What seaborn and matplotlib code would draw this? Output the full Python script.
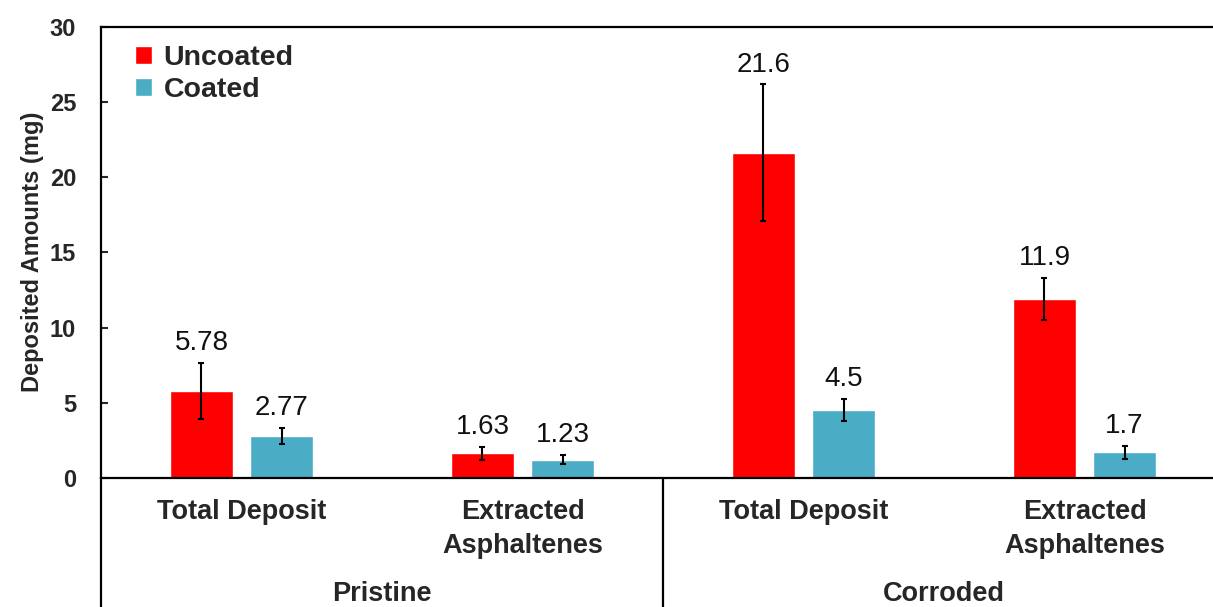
import numpy as np
import pandas as pd
import seaborn as sns
import matplotlib
matplotlib.use("Agg")
import matplotlib.pyplot as plt

# data
conditions = ["Pristine", "Corroded"]
measures = ["Total Deposit", "Extracted\nAsphaltenes"]
coatings = ["Uncoated", "Coated"]

uncoated = [5.78, 1.63, 21.6, 11.9]
coated = [2.77, 1.23, 4.5, 1.7]
uncoated_err = [1.87, 0.44, 4.55, 1.4]
coated_err = [0.53, 0.30, 0.73, 0.46]

sns.set_style("ticks")
plt.rcParams['font.family'] = ['Liberation Sans', 'DejaVu Sans']

slots = [c + "|" + m for c in conditions for m in measures]
df = pd.DataFrame({
    "slot": slots * 2,
    "coating": ["Uncoated"] * 4 + ["Coated"] * 4,
    "amount": uncoated + coated,
})
errs = {"Uncoated": uncoated_err, "Coated": coated_err}
vals = {"Uncoated": uncoated, "Coated": coated}

fig = plt.figure(figsize=(12.13, 6.07), dpi=100)
ax = fig.add_axes([0.0833, 0.2125, 0.9266, 0.7438])

sns.barplot(data=df, x="slot", y="amount", hue="coating", order=slots,
            hue_order=coatings, palette=["#FF0000", "#4BACC6"],
            width=0.57, gap=0.21, errorbar=None, ax=ax, saturation=1)

# error bars + value labels
for cont, name in zip(ax.containers, coatings):
    xs = [p.get_x() + p.get_width() / 2 for p in cont.patches]
    ax.errorbar(xs, vals[name], yerr=errs[name], fmt="none", ecolor="black",
                elinewidth=1.5, capsize=2.5, capthick=1.5, zorder=5)
    for x, v, e in zip(xs, vals[name], errs[name]):
        ax.annotate("{:g}".format(v), (x, v + e), xytext=(0, 5),
                    textcoords="offset points", ha="center", va="bottom",
                    fontsize=20, color="#111111")

ax.set_xlim(-0.5, 3.5)
ax.set_ylim(0, 30)
ax.set_yticks(range(0, 31, 5))
ax.tick_params(axis="y", direction="in", length=5, width=1.5, labelsize=17,
               pad=18)
for t in ax.get_yticklabels():
    t.set_fontweight("bold")
ax.set_ylabel("Deposited Amounts (mg)", fontsize=17, fontweight="bold",
              labelpad=4)
ax.set_xlabel("")
ax.set_xticks(range(4))
ax.set_xticklabels([s.split("|")[1] for s in slots], fontsize=19.5,
                   fontweight="bold", linespacing=1.4)
ax.tick_params(axis="x", length=0, pad=15)

for s in ax.spines.values():
    s.set_linewidth(1.6)
    s.set_color("black")

# category grouping lines below the axis
trans = ax.get_xaxis_transform()
for xline in [-0.5, 1.5]:
    ax.plot([xline, xline], [0, -0.3], transform=trans, color="black",
            lw=1.6, clip_on=False)
for i, c in enumerate(conditions):
    ax.text(2 * i + 0.5, -0.256, c, transform=trans, ha="center",
            va="center", fontsize=19.5, fontweight="bold")

leg = ax.legend(loc="upper left", bbox_to_anchor=(0.02, 0.985), frameon=False,
                fontsize=20.5, handlelength=0.6, handleheight=0.6,
                handletextpad=0.4, labelspacing=0.22, borderaxespad=0)
for t in leg.get_texts():
    t.set_fontweight("bold")

fig.savefig("out.png", dpi=100)
